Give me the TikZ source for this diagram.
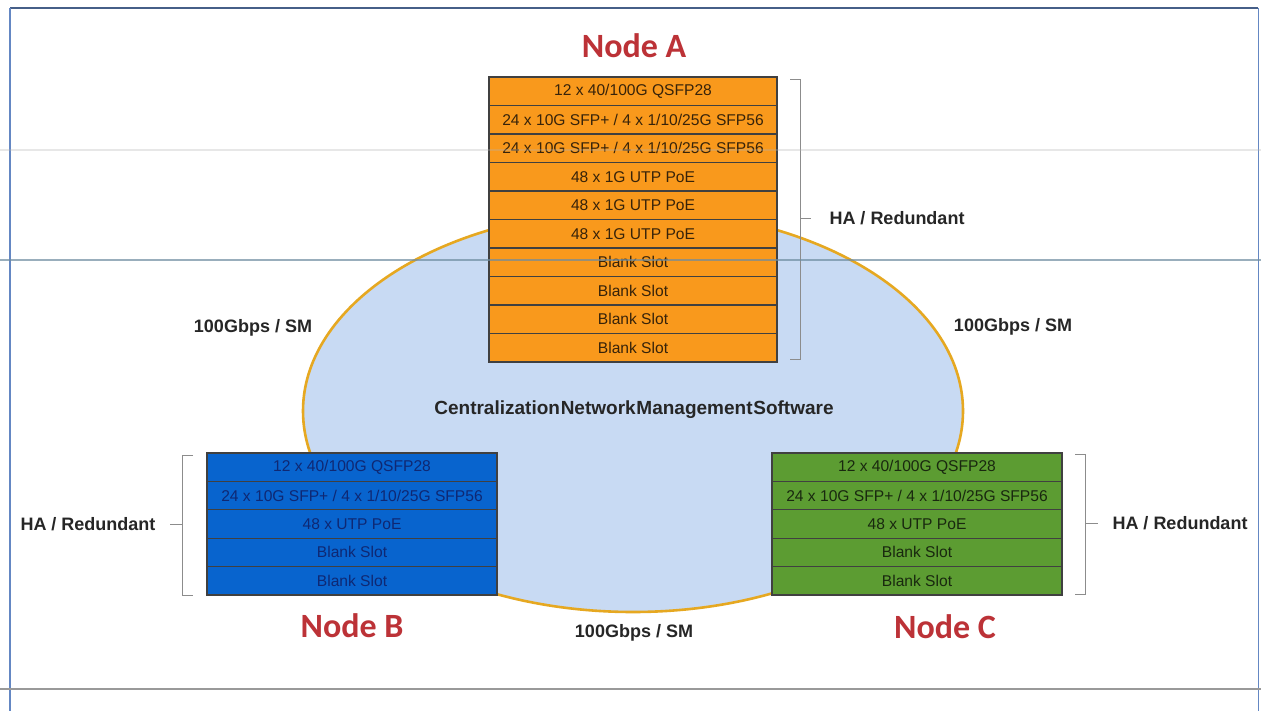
\documentclass[tikz,border=0pt]{standalone}
\usepackage{fontspec}
\setmainfont{Liberation Sans}
\newfontfamily\titlefont{Carlito}
\definecolor{orng}{RGB}{249,153,28}
\definecolor{blu}{RGB}{8,100,206}
\definecolor{grn}{RGB}{92,156,50}
\definecolor{ellfill}{RGB}{200,218,243}
\definecolor{ellline}{RGB}{230,168,33}
\definecolor{ttl}{RGB}{188,50,55}
\definecolor{frameblue}{RGB}{100,135,195}
\definecolor{scanline}{RGB}{110,140,160}
\definecolor{txtA}{RGB}{55,35,10}
\definecolor{txtB}{RGB}{15,40,115}
\definecolor{txtC}{RGB}{25,40,15}
\begin{document}
\begin{tikzpicture}[x=1pt,y=-1pt,
  slot/.style={rectangle,draw=black!75,line width=1.1pt,inner sep=0pt,minimum height=28.5pt,
    font=\fontsize{15.6}{15.6}\selectfont},
  slotA/.style={slot,fill=orng,minimum width=288pt,text=txtA},
  slotB/.style={slot,fill=blu,minimum width=290pt,minimum height=28.4pt,text=txtB},
  slotC/.style={slot,fill=grn,minimum width=290pt,minimum height=28.4pt,text=txtC},
  ttlstyle/.style={font=\titlefont\bfseries\fontsize{34}{34}\selectfont,text=ttl},
  lbl/.style={font=\bfseries\fontsize{18}{18}\selectfont,text=black!85},
  brk/.style={draw=black!45,line width=0.9pt}]
\useasboundingbox (0,0) rectangle (1261,711);
\fill[white] (0,0) rectangle (1261,711);
% frame
\draw[frameblue!70!black,line width=1.3pt] (10,8) -- (1258,8);
\draw[frameblue,line width=1.2pt] (10,8) -- (10,711);
\draw[frameblue,line width=1pt] (1258,8) -- (1258,711);
\draw[black!40,line width=1.2pt] (0,689) -- (1261,689);
% cloud
\draw[fill=ellfill,draw=ellline,line width=2.6pt] (633,411) ellipse [x radius=330, y radius=201];
% Node A stack
\foreach [count=\i] \t in {{12 x 40/100G QSFP28},{24 x 10G SFP+ / 4 x 1/10/25G SFP56},{24 x 10G SFP+ / 4 x 1/10/25G SFP56},{48 x 1G UTP PoE},{48 x 1G UTP PoE},{48 x 1G UTP PoE},{Blank Slot},{Blank Slot},{Blank Slot},{Blank Slot}}
  \node[slotA] (a\i) at ({633},{77+28.5*(\i-0.5)}) {\t};
% Node B stack
\foreach [count=\i] \t in {{12 x 40/100G QSFP28},{24 x 10G SFP+ / 4 x 1/10/25G SFP56},{48 x UTP PoE},{Blank Slot},{Blank Slot}}
  \node[slotB] (b\i) at ({352},{453+28.4*(\i-0.5)}) {\t};
% Node C stack
\foreach [count=\i] \t in {{12 x 40/100G QSFP28},{24 x 10G SFP+ / 4 x 1/10/25G SFP56},{48 x UTP PoE},{Blank Slot},{Blank Slot}}
  \node[slotC] (c\i) at ({917},{453+28.4*(\i-0.5)}) {\t};
% titles
\node[ttlstyle] (ta) at (634,46) {Node A};
\node[ttlstyle] (tb) at (352,626) {Node B};
\node[ttlstyle] (tc) at (945,627) {Node C};
% brackets
\draw[brk] (790,79) -- (800,79) -- (800,359) -- (790,359);
\draw[brk] (800,218) -- (811,218);
\draw[brk] (193,455) -- (182,455) -- (182,595) -- (193,595);
\draw[brk] (182,524) -- (170,524);
\draw[brk] (1075,454) -- (1085,454) -- (1085,594) -- (1075,594);
\draw[brk] (1085,523) -- (1098,523);
% labels
\node[lbl] (ha) at (897,218) {HA / Redundant};
\node[lbl] (hb) at (88,524) {HA / Redundant};
\node[lbl] (hc) at (1180,523) {HA / Redundant};
\node[lbl] (gl) at (253,328) {100Gbps / SM};
\node[lbl] (gr) at (1013,327) {100Gbps / SM};
\node[lbl] (gb) at (634,633) {100Gbps / SM};
\node[lbl,font=\bfseries\fontsize{19}{19}\selectfont] (cn) at (634,410) {\spaceskip=0.04em\relax Centralization Network Management Software};
% scan lines
\draw[black!30,line width=1.5pt,opacity=0.3] (0,150) -- (1261,150);
\draw[scanline,line width=1.5pt,opacity=0.7] (0,260) -- (1261,260);
\end{tikzpicture}
\end{document}
